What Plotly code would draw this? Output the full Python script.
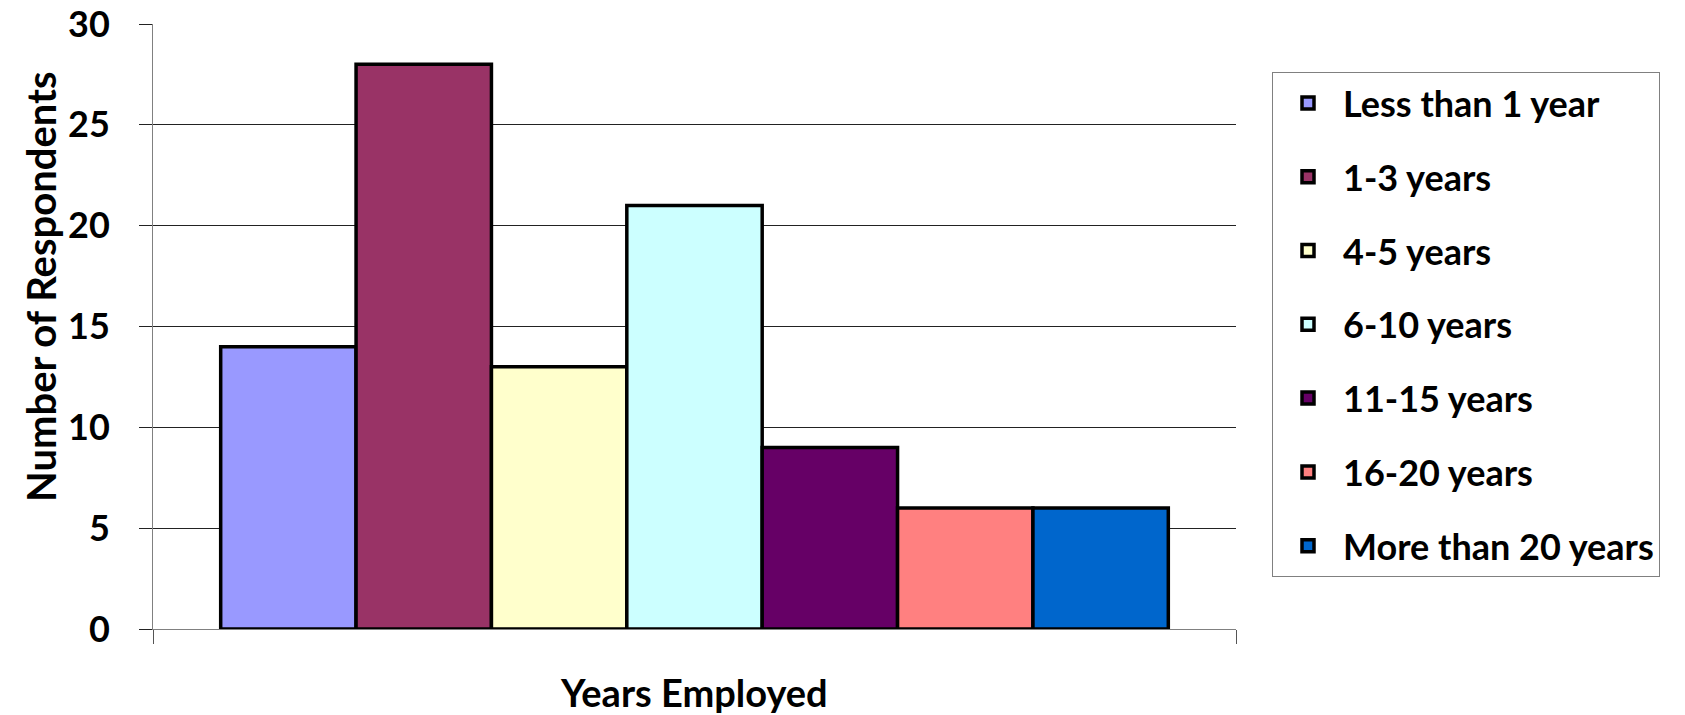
import plotly.graph_objects as go

# Survey: length of employment of respondents
categories = ["Less than 1 year", "1-3 years", "4-5 years", "6-10 years",
              "11-15 years", "16-20 years", "More than 20 years"]
respondents = [14, 28, 13, 21, 9, 6, 6]
colors = ["#9999FF", "#993366", "#FFFFCC", "#CCFFFF",
          "#660066", "#FF8080", "#0066CC"]
y_ticks = [0, 5, 10, 15, 20, 25, 30]

W, H = 1685, 715
L, R, T, B = 153, 449, 24, 86
PW, PH = W - L - R, H - T - B
FONT = "Lato, 'Open Sans', sans-serif"


def px_x(px):
    # pixel column -> paper x
    return (px - L) / PW


def px_y(py):
    # pixel row -> paper y
    return (H - B - py) / PH


fig = go.Figure()
for i, (name, val, col) in enumerate(zip(categories, respondents, colors)):
    fig.add_trace(go.Bar(
        x=[""], y=[val], name=name, legendgroup=f"g{i}",
        marker=dict(color=col, line=dict(color="#000000", width=3.5)),
    ))

fig.update_layout(
    width=W, height=H,
    margin=dict(l=L, r=R, t=T, b=B, autoexpand=False),
    paper_bgcolor="white", plot_bgcolor="white",
    font=dict(family=FONT, color="#000000"),
    barmode="group", bargap=0.125, bargroupgap=0,
    showlegend=True,
    legend=dict(
        x=px_x(1272), y=px_y(72), xanchor="left", yanchor="top",
        bordercolor="#808080", borderwidth=1, bgcolor="white",
        font=dict(family=FONT, size=36, color="#000000", weight="bold"),
        tracegroupgap=24, itemwidth=60,
    ),
    xaxis=dict(
        showticklabels=False, showgrid=False, automargin=False,
        showline=True, linecolor="#808080", linewidth=1,
        ticks="outside", tickson="boundaries", ticklen=14,
        tickcolor="#555555", tickwidth=1,
    ),
    yaxis=dict(
        range=[0, 30], tickvals=y_ticks, automargin=False,
        showgrid=True, gridcolor="#222222", gridwidth=1,
        showline=True, linecolor="#808080", linewidth=1,
        ticks="outside", ticklen=13, tickcolor="#222222", tickwidth=1,
        ticklabelstandoff=22,
        tickfont=dict(family=FONT, size=36, color="#000000", weight="bold"),
        zeroline=False,
    ),
    annotations=[
        dict(text="Number of Respondents", textangle=-90,
             x=px_x(41), y=px_y(287), xref="paper", yref="paper",
             showarrow=False, xanchor="center", yanchor="middle",
             font=dict(family=FONT, size=40, color="#000000", weight="bold")),
        dict(text="Years Employed",
             x=px_x(694), y=px_y(692), xref="paper", yref="paper",
             showarrow=False, xanchor="center", yanchor="middle",
             font=dict(family=FONT, size=38, color="#000000", weight="bold")),
    ],
)

fig.write_html("out.html")
